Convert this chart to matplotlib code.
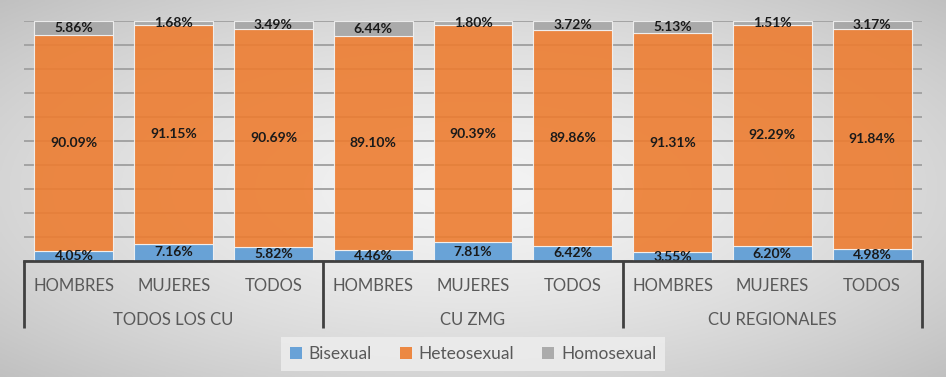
import numpy as np
import matplotlib
matplotlib.use("Agg")
import matplotlib.pyplot as plt
from matplotlib.patches import Patch

plt.rcParams['font.family'] = ['Lato', 'DejaVu Sans']

groups = ["TODOS LOS CU", "CU ZMG", "CU REGIONALES"]
subcats = ["HOMBRES", "MUJERES", "TODOS"]
series_names = ["Bisexual", "Heteosexual", "Homosexual"]
bisexual = [4.05, 7.16, 5.82, 4.46, 7.81, 6.42, 3.55, 6.20, 4.98]
heterosexual = [90.09, 91.15, 90.69, 89.10, 90.39, 89.86, 91.31, 92.29, 91.84]
homosexual = [5.86, 1.68, 3.49, 6.44, 1.80, 3.72, 5.13, 1.51, 3.17]
colors = ["#5b9bd5", "#ed7d31", "#a5a5a5"]

fig = plt.figure(figsize=(9.46, 3.77), dpi=100)

# radial gradient background
bg = fig.add_axes([0, 0, 1, 1], zorder=-10)
yy, xx = np.mgrid[0:1:200j, 0:1:400j]
r = np.sqrt(((xx - 0.5) / 0.5) ** 2 + ((yy - 0.5) / 0.5) ** 2) / np.sqrt(2)
val = 0.955 - 0.2 * r ** 1.5
bg.imshow(np.dstack([val, val, val]), aspect='auto', extent=[0, 1, 0, 1])
bg.axis('off')

ax = fig.add_axes([24 / 946, 1 - 261 / 377, 898 / 946, 240 / 377])
ax.set_facecolor('none')

n = len(bisexual)
x = np.arange(n)
width = 0.79
data = [bisexual, heterosexual, homosexual]
bottom = np.zeros(n)
for vals, c, name in zip(data, colors, series_names):
    vals = np.array(vals)
    ax.bar(x, vals, width, bottom=bottom, color=c, alpha=0.9,
           edgecolor='#f4f4f4', linewidth=0.8, label=name, zorder=3)
    for xi, b, v in zip(x, bottom, vals):
        ax.text(xi, b + v / 2, f"{v:.2f}%", ha='center', va='center',
                fontsize=10, fontweight='bold', color='#1a1a1a', zorder=5)
    bottom += vals

ax.set_xlim(-0.5, n - 0.5)
ax.set_ylim(0, 100)
ax.set_yticks(np.arange(0, 101, 10))
ax.yaxis.grid(True, color='#a3a3a3', linewidth=1.4, zorder=0)
ax.tick_params(axis='y', left=False, labelleft=False)
for s in ['top', 'right', 'left']:
    ax.spines[s].set_visible(False)
ax.spines['bottom'].set_color('#404040')
ax.spines['bottom'].set_linewidth(2)
ax.spines['bottom'].set_zorder(6)

ax.set_xticks(x)
ax.set_xticklabels(subcats * 3, fontsize=12, color='#595959')
ax.tick_params(axis='x', length=0, pad=12)

trans = ax.get_xaxis_transform()
for xs in [-0.5, 2.5, 5.5, 8.5]:
    ax.plot([xs, xs], [0, -0.28], transform=trans, color='#404040',
            linewidth=2, clip_on=False, solid_capstyle='butt')
for gi, g in enumerate(groups):
    ax.text(gi * 3 + 1, -0.245, g, transform=trans, ha='center', va='center',
            fontsize=12, color='#595959')

handles = [Patch(facecolor=c, alpha=0.9) for c in colors]
leg = fig.legend(handles, series_names, loc='center',
                 bbox_to_anchor=(473 / 946, 1 - 354 / 377), ncol=3,
                 fontsize=12.5, frameon=True, fancybox=False,
                 handlelength=0.7, handleheight=0.7, handletextpad=0.4,
                 columnspacing=1.6, borderpad=0.5)
leg.get_frame().set_facecolor('#ececec')
leg.get_frame().set_edgecolor('none')
leg.get_frame().set_alpha(0.9)
for t in leg.get_texts():
    t.set_color('#595959')

fig.savefig("out.png", dpi=100)
